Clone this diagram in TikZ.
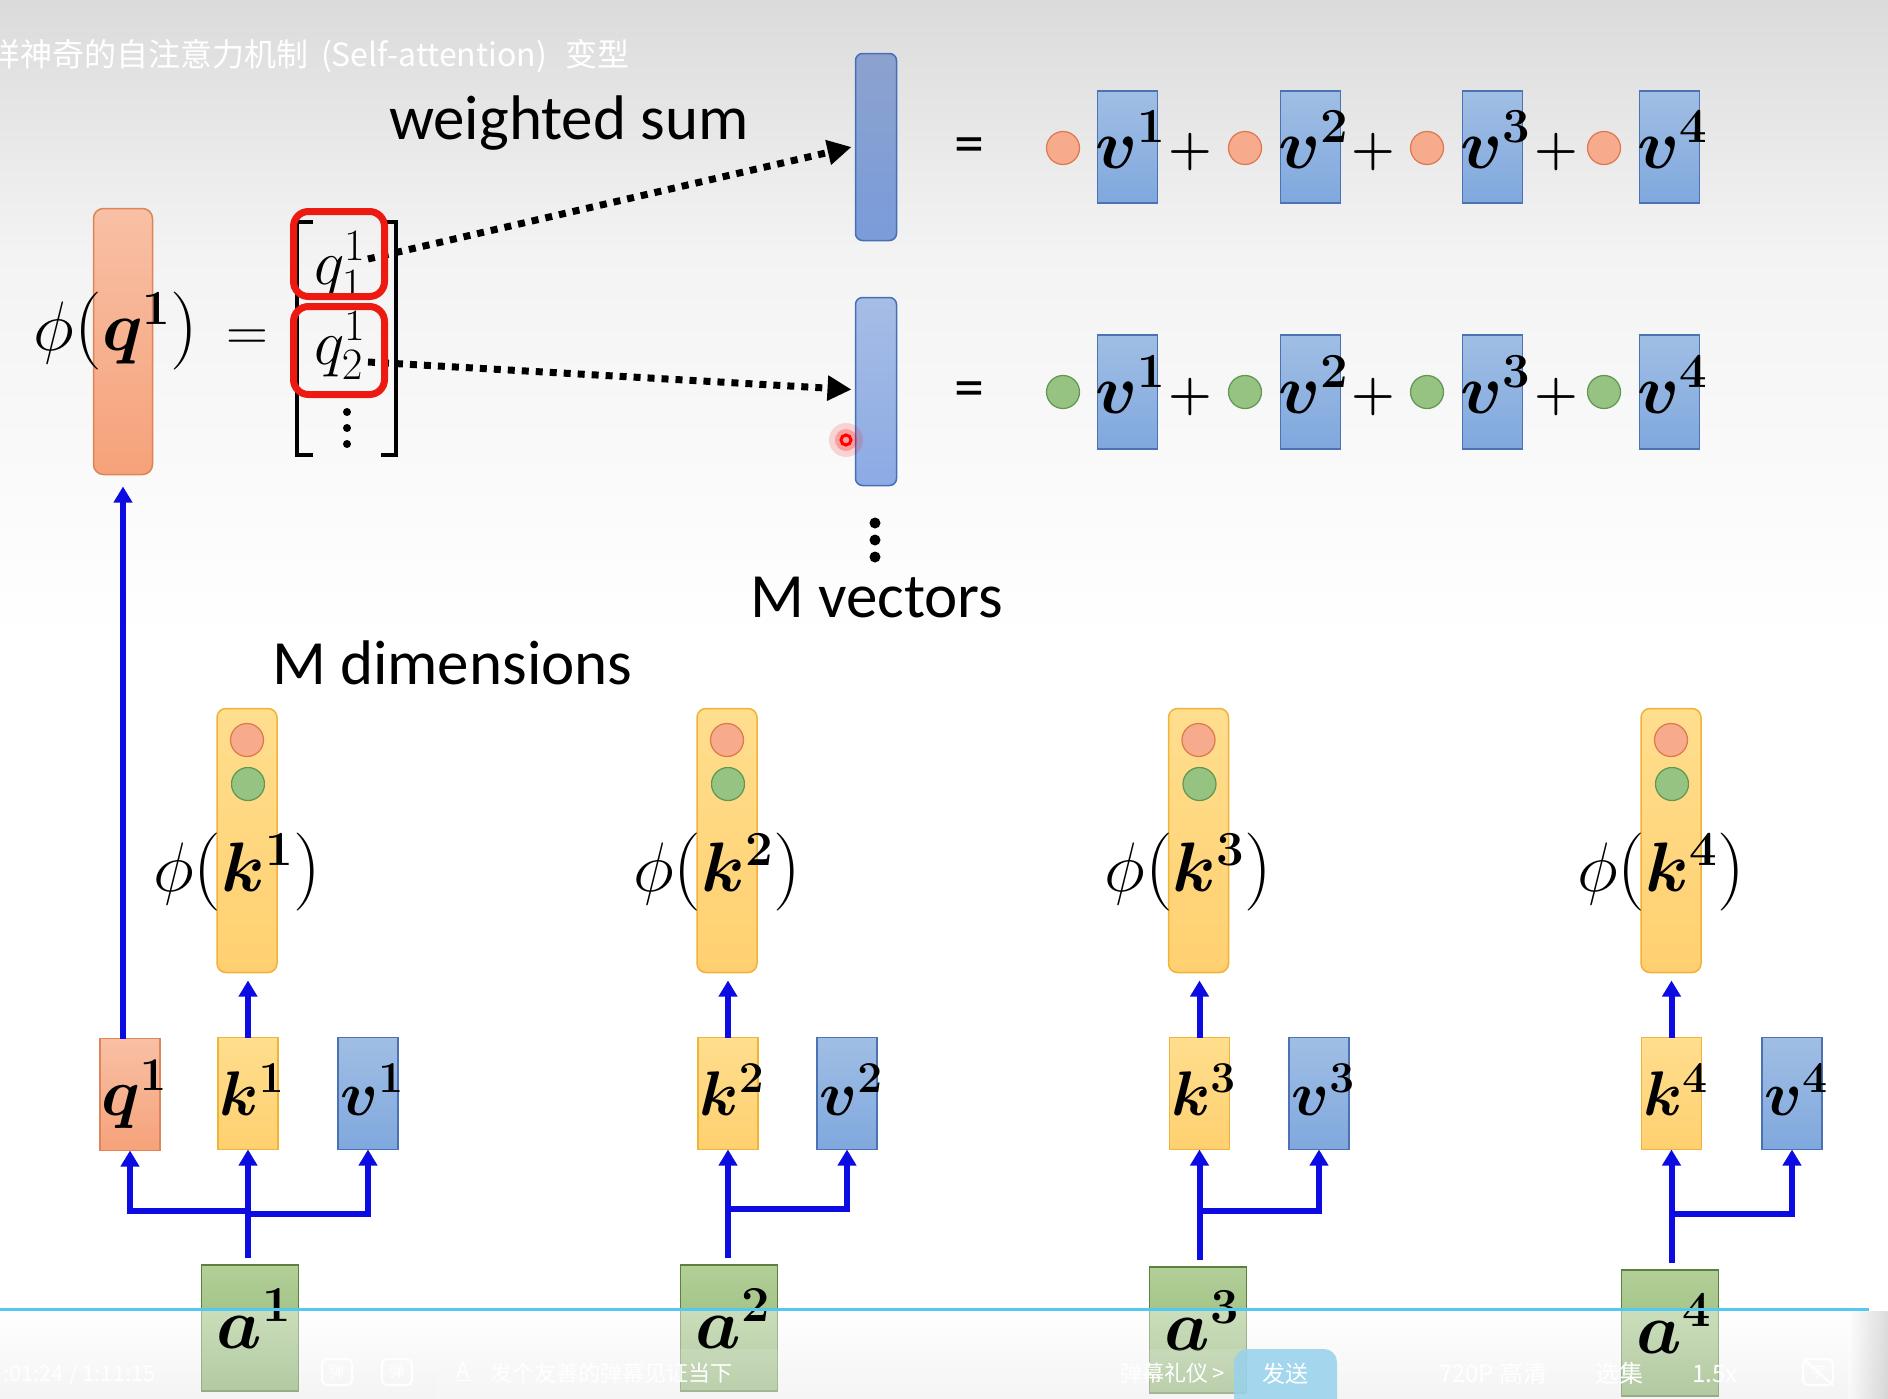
\RequirePackage{fix-cm}
\documentclass[tikz,border=0pt]{standalone}
\usepackage[no-math]{fontspec}
\usepackage{amsmath}
\usetikzlibrary{arrows.meta,calc}
\newfontfamily\calfont{Carlito}
\newfontfamily\cjkfont{Noto Sans CJK SC}
\newcommand\fs[1]{\fontsize{#1}{#1}\selectfont}
\newcommand\lpar{\mathopen{\mbox{\fs{78}(}}}
\newcommand\rpar{\mathclose{\mbox{\fs{78})}}}
\definecolor{bgA}{RGB}{219,219,219}
\definecolor{bgB}{RGB}{243,243,243}
\definecolor{qT}{RGB}{248,192,165}
\definecolor{qB}{RGB}{246,162,122}
\definecolor{qD}{RGB}{222,132,88}
\definecolor{kT}{RGB}{255,222,142}
\definecolor{kB}{RGB}{255,208,112}
\definecolor{kD}{RGB}{240,178,55}
\definecolor{vT}{RGB}{160,190,228}
\definecolor{vB}{RGB}{128,168,222}
\definecolor{vD}{RGB}{75,115,180}
\definecolor{aT}{RGB}{178,207,152}
\definecolor{aB}{RGB}{140,180,110}
\definecolor{aD}{RGB}{92,128,62}
\definecolor{oF}{RGB}{246,172,140}
\definecolor{oD}{RGB}{222,118,78}
\definecolor{gF}{RGB}{150,195,130}
\definecolor{gD}{RGB}{95,150,80}
\definecolor{s1T}{RGB}{140,162,206}
\definecolor{s1B}{RGB}{122,156,218}
\definecolor{s2T}{RGB}{166,189,229}
\definecolor{s2B}{RGB}{140,170,228}
\definecolor{sD}{RGB}{70,110,185}
\definecolor{redc}{RGB}{236,26,16}
\definecolor{arb}{RGB}{12,12,226}
\definecolor{cyanc}{RGB}{85,200,240}
\definecolor{btn}{RGB}{150,210,236}
\tikzset{
  every node/.style={inner sep=0pt, outer sep=0pt},
  qbox/.style={draw=qD, line width=1.5pt, top color=qT, bottom color=qB, minimum width=60pt, minimum height=112pt},
  kbox/.style={draw=kD, line width=1.5pt, top color=kT, bottom color=kB, minimum width=60pt, minimum height=112pt},
  vbox/.style={draw=vD, line width=1.5pt, top color=vT, bottom color=vB, minimum width=60pt, minimum height=112pt},
  abox/.style={draw=aD, line width=1.5pt, top color=aT, bottom color=aB, minimum width=97pt, minimum height=126pt},
  qbar/.style={draw=qD, line width=1.5pt, top color=qT, bottom color=qB, rounded corners=10pt, minimum width=59pt, minimum height=266pt},
  kbar/.style={draw=kD, line width=1.5pt, top color=kT, bottom color=kB, rounded corners=9pt, minimum width=60pt, minimum height=264pt},
  sbarA/.style={draw=sD, line width=1.5pt, top color=s1T, bottom color=s1B, rounded corners=7pt, minimum width=41pt, minimum height=187pt},
  sbarB/.style={draw=sD, line width=1.5pt, top color=s2T, bottom color=s2B, rounded corners=7pt, minimum width=41pt, minimum height=188pt},
  vrect/.style={draw=vD, line width=1.5pt, top color=vT, bottom color=vB, minimum width=60pt, minimum height=112pt},
  ocirc/.style={circle, draw=oD, fill=oF, line width=1.2pt, minimum size=33pt},
  gcirc/.style={circle, draw=gD, fill=gF, line width=1.2pt, minimum size=33pt},
  mtxt/.style={font=\fs{63}, anchor=base},
  phitxt/.style={font=\fs{70}, anchor=base},
  vtxt/.style={font=\fs{70}, anchor=base},
  atxt/.style={font=\fs{72}, anchor=base},
  plustxt/.style={font=\fs{50}},
  eqtxt/.style={font=\calfont\fs{60}},
  lbl/.style={font=\calfont\fs{63}, anchor=base west},
  barr/.style={draw=arb, line width=6pt, -{Triangle[width=18pt,length=16pt]}},
  darr/.style={draw=black, line width=7pt, dash pattern=on 7pt off 7pt, -{Triangle[width=24pt,length=24pt]}},
  brk/.style={draw=black, line width=4.5pt},
  redbox/.style={draw=redc, line width=7pt, rounded corners=15pt, minimum width=91pt},
  ttl/.style={font=\cjkfont\fs{32}, text=white},
  ctl/.style={font=\cjkfont\fs{22}, text=white, anchor=base west},
  ctlicon/.style={draw=white, line width=2pt, rounded corners=5pt, minimum width=30pt, minimum height=26pt, font=\cjkfont\fs{15}, text=white},
}
\begin{document}
\begin{tikzpicture}[x=1pt,y=-1pt]
\useasboundingbox (0,0) rectangle (1888,1398);
\clip (0,0) rectangle (1888,1398);
% background
\fill[white] (0,0) rectangle (1888,1398);
\shade[top color=bgA, bottom color=bgB] (0,0) rectangle (1888,250);
\shade[top color=bgB, bottom color=white] (0,250) rectangle (1888,640);
% title
\node[ttl, anchor=base east] (t1) at (309,66) {样神奇的自注意力机制};
\node[ttl, anchor=base west] (t2) at (321,66) {(Self-attention)};
\node[ttl, anchor=base west] (t3) at (565,66) {变型};
% phi(q)
\node[qbar] (qphi) at (123,341.5) {};
\node[phitxt, anchor=base west] (qphit) at (34,350) {$\phi\lpar\boldsymbol{q^1}\rpar$};
\node[mtxt, font=\fs{58}] (eq0) at (247,350) {$=$};
% weighted-sum bars
\node[sbarA] (bar1) at (876,147) {};
\node[sbarB] (bar2) at (876,391.5) {};
\coordinate (d1) at (368,259);
\coordinate (d2) at (368,362);
\draw[darr] (d1) -- ([xshift=-4pt]bar1.west);
\draw[darr] (d2) -- ([xshift=-4pt,yshift=2pt]bar2.west);
% matrix
\draw[brk] (313,222) -- (297,222) -- (297,455) -- (313,455);
\draw[brk] (381,222) -- (396,222) -- (396,455) -- (381,455);
\node[mtxt, font=\fs{64}, anchor=base west] (q11) at (314,284) {$q^1_1$};
\node[mtxt, font=\fs{64}, anchor=base west] (q21) at (314,364) {$q^1_2$};
\fill[black] (347,412) circle (4) (347,428) circle (4) (347,444) circle (4);
\node[redbox, minimum height=85pt] (r1) at (339,254) {};
\node[redbox, minimum height=88pt] (r2) at (339,350.5) {};
% laser pointer
\fill[red, opacity=0.15] (846,440) circle (17);
\fill[red, opacity=0.25] (846,440) circle (11);
\draw[red, line width=3pt] (846,440) circle (5);
% labels
\node[lbl] (ws) at (389,139) {weighted sum};
\node[lbl] (mv) at (750,617) {M vectors};
\node[lbl] (md) at (272,684) {M dimensions};
\fill[black] (875,523) circle (5.5) (875,540) circle (5.5) (875,557) circle (5.5);
% sum rows
\node[eqtxt] (e1) at (969,151) {=};
\node[eqtxt] (e2) at (969,395) {=};
\foreach \i/\cx/\vx in {1/1063/1127.5, 2/1245/1310.5, 3/1427/1492.5, 4/1604/1669.5}{
  \node[ocirc] (so\i) at (\cx,148) {};
  \node[vrect] (sv\i) at (\vx,147) {};
  \node[vtxt] (svt\i) at (\vx+3,168) {$\boldsymbol{v^{\i}}$};
  \node[gcirc] (sg\i) at (\cx,392) {};
  \node[vrect, minimum height=114pt] (sw\i) at (\vx,392) {};
  \node[vtxt] (swt\i) at (\vx+3,413) {$\boldsymbol{v^{\i}}$};
}
\foreach \i/\px in {1/1190, 2/1373, 3/1556}{
  \node[plustxt] (pa\i) at (\px,152) {$\boldsymbol{+}$};
  \node[plustxt] (pb\i) at (\px,397) {$\boldsymbol{+}$};
}
% bottom groups
\foreach \i/\kx/\bx/\vx/\ax/\ay in {1/248/247/368/250/1328, 2/728/727/847/729/1328, 3/1199.5/1198.5/1319/1198/1330, 4/1671.5/1671/1792/1670/1333}{
  \node[kbar] (pk\i) at (\bx,840.5) {};
  \node[ocirc] (po\i) at (\bx,740) {};
  \node[gcirc] (pg\i) at (\bx+1,784) {};
  \node[phitxt] (pkt\i) at (\bx-10,891) {$\phi\lpar\boldsymbol{k^{\i}}\rpar$};
  \node[kbox] (k\i) at (\kx,1093.5) {};
  \node[mtxt] (kt\i) at (\kx+4,1115) {$\boldsymbol{k^{\i}}$};
  \node[vbox] (v\i) at (\vx,1093.5) {};
  \node[mtxt] (vt\i) at (\vx+4,1115) {$\boldsymbol{v^{\i}}$};
  \node[abox] (a\i) at (\ax,\ay) {};
  \draw[barr] (k\i.north) -- ($(k\i.north |- pk\i.south)+(0,8)$);
  \draw[barr] ($(k\i.south |- a\i.north)+(0,-7)$) -- (k\i.south);
}
\node[qbox] (q1) at (130,1094.5) {};
\node[mtxt, font=\fs{67}] (qt1) at (134,1115) {$\boldsymbol{q^1}$};
\draw[barr] (q1.north -| qphi.south) -- ($(qphi.south)+(0,12)$);
\draw[barr] ($(k1.south |- a1.north)+(0,-54)$) -| (q1.south);
\draw[barr] ($(k1.south |- a1.north)+(0,-51)$) -| (v1.south);
\foreach \i in {2,3,4}{
  \draw[barr] ($(k\i.south |- a\i.north)+(0,-56)$) -| (v\i.south);
}
% video overlay
\fill[white, opacity=0.12] (0,1311) rectangle (1888,1398);
\shade[top color=white, bottom color=black!12, opacity=0.35] (0,1311) rectangle (1888,1398);
\shade[left color=white, right color=black!30, opacity=0.45] (1848,1311) rectangle (1888,1398);
\foreach \i in {1,2,3,4}{
  \node[atxt] (at\i) at ($(a\i.center)+(4,20)$) {$\boldsymbol{a^{\i}}$};
}
\draw[cyanc, line width=3pt] (0,1309) -- (1869,1309);
\fill[white, opacity=0.12, rounded corners=12pt] (437,1349) rectangle (1337,1420);
\fill[btn, opacity=0.85, rounded corners=13pt] (1234,1349) rectangle (1337,1420);
\node[font=\cjkfont\fs{23}, text=white] (send) at (1285,1374) {发送};
\node[ctl] (tm) at (3,1381) {:01:24 / 1:11:15};
\node[ctlicon] (i1) at (337,1372) {弹};
\node[ctlicon] (i2) at (397,1372) {弹};
\node[ctl, anchor=center] (iA) at (463,1372) {\underline{A}};
\node[ctl] (dm) at (490,1381) {发个友善的弹幕见证当下};
\node[ctl] (ly) at (1120,1381) {弹幕礼仪 >};
\node[ctl, font=\cjkfont\fs{24}] (hd) at (1439,1382) {720P 高清};
\node[ctl, font=\cjkfont\fs{24}] (xj) at (1595,1382) {选集};
\node[ctl, font=\cjkfont\fs{24}] (sp) at (1692,1382) {1.5x};
\node[ctlicon] (i3) at (1818,1372) {字};
\draw[white, line width=2pt] (i3.north west) -- (i3.south east);
\end{tikzpicture}
\end{document}
